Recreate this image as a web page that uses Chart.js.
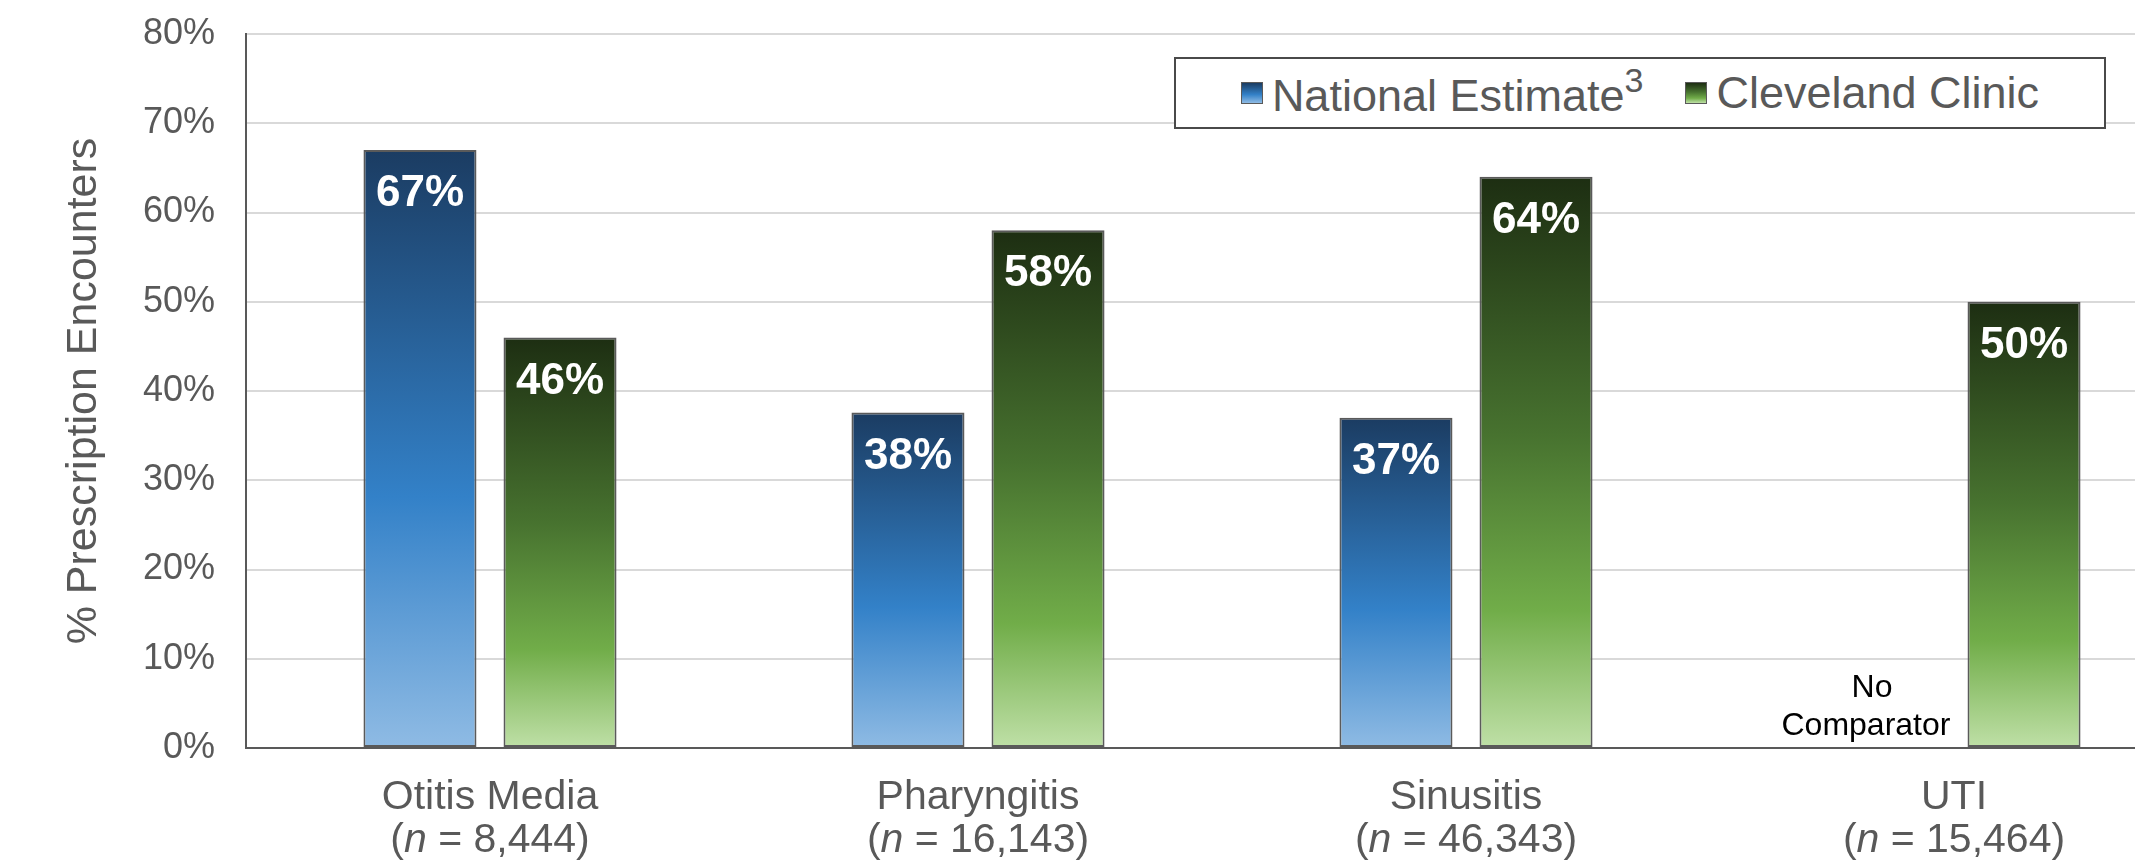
<!DOCTYPE html>
<html>
<head>
<meta charset="utf-8">
<script src="https://cdn.jsdelivr.net/npm/chart.js@4.4.1/dist/chart.umd.min.js"></script>
<style>
    html, body { margin: 0; padding: 0; background: #fff; overflow: hidden; }
    #wrap { position: relative; width: 2200px; height: 865px; }
    #legend {
        position: absolute; left: 1174px; top: 57px; width: 928px; height: 68px;
        border: 2px solid #4a4a4a; background: #fff;
        display: flex; align-items: center; justify-content: center; gap: 42px;
        font-family: "Liberation Sans", Arial, sans-serif; font-size: 45px; color: #595959;
    }
    #legend .item { display: flex; align-items: center; }
    #legend .sw { width: 20px; height: 20px; border: 1.5px solid #5a5a5a; margin-right: 9px; }
    #legend sup { font-size: 34px; position: relative; top: -3px; }
</style>
</head>
<body>
<div id="wrap">
    <canvas id="chart" width="2200" height="865"></canvas>
    <div id="legend"></div>
</div>
<script>
// --- data ---
const categories = ['Otitis Media', 'Pharyngitis', 'Sinusitis', 'UTI'];
const sampleSizes = ['8,444', '16,143', '46,343', '15,464'];
const nationalEstimate = [67, 37.6, 37, null];
const clevelandClinic = [46, 58, 64, 50];
const seriesNames = ['National Estimate', 'Cleveland Clinic'];
const seriesNotes = ['3', ''];
const yMax = 80;
const yStep = 10;
const noDataText = ['No', 'Comparator'];

const FONT = '"Liberation Sans", Arial, sans-serif';
const GREY = '#595959';

const blueStops = [[0, '#1b3c62'], [0.58, '#3381c8'], [1, '#8fbbe4']];
const greenStops = [[0, '#1d2e12'], [0.45, '#47722f'], [0.76, '#71ad49'], [1, '#bfe0a7']];

function barGradient(stops, fallback) {
    return function (ctx) {
        const chart = ctx.chart;
        if (!chart.chartArea || ctx.raw == null) return fallback;
        const y = chart.scales.y;
        const top = y.getPixelForValue(ctx.raw);
        const bottom = y.getPixelForValue(0);
        const g = chart.ctx.createLinearGradient(0, top, 0, bottom);
        stops.forEach(s => g.addColorStop(s[0], s[1]));
        return g;
    };
}

// legend (html, because of the superscript)
const legendEl = document.getElementById('legend');
[blueStops, greenStops].forEach((stops, i) => {
    const css = 'linear-gradient(' + stops.map(s => s[1] + ' ' + (s[0] * 100) + '%').join(',') + ')';
    const item = document.createElement('div');
    item.className = 'item';
    item.innerHTML = '<div class="sw" style="background:' + css + '"></div><span>' +
        seriesNames[i] + (seriesNotes[i] ? '<sup>' + seriesNotes[i] + '</sup>' : '') + '</span>';
    legendEl.appendChild(item);
});

// value labels inside bars + "No Comparator"
const valueLabels = {
    id: 'valueLabels',
    afterDatasetsDraw(chart) {
        const c = chart.ctx;
        c.save();
        c.textAlign = 'center';
        c.textBaseline = 'middle';
        chart.data.datasets.forEach((ds, d) => {
            const meta = chart.getDatasetMeta(d);
            meta.data.forEach((bar, i) => {
                const v = ds.data[i];
                if (v == null) {
                    c.fillStyle = '#000';
                    c.font = '32px ' + FONT;
                    c.fillText(noDataText[0], bar.x - 12, 688);
                    c.fillText(noDataText[1], bar.x - 18, 726);
                    return;
                }
                c.fillStyle = '#fff';
                c.font = 'bold 44px ' + FONT;
                c.fillText(Math.round(v) + '%', bar.x, bar.y + 44);
            });
        });
        c.restore();
    }
};

// two-line category labels with italic n
const categoryLabels = {
    id: 'categoryLabels',
    afterDraw(chart) {
        const c = chart.ctx;
        const x = chart.scales.x;
        const size = 41;
        c.save();
        c.fillStyle = GREY;
        c.textBaseline = 'middle';
        categories.forEach((name, i) => {
            const cx = x.getPixelForValue(i);
            c.font = size + 'px ' + FONT;
            c.textAlign = 'center';
            c.fillText(name, cx, 798);
            const a = '(', b = 'n', rest = ' = ' + sampleSizes[i] + ')';
            const wa = c.measureText(a).width;
            const wr = c.measureText(rest).width;
            c.font = 'italic ' + size + 'px ' + FONT;
            const wb = c.measureText(b).width;
            const px = cx - (wa + wb + wr) / 2;
            c.textAlign = 'left';
            c.font = size + 'px ' + FONT;
            c.fillText(a, px, 841);
            c.font = 'italic ' + size + 'px ' + FONT;
            c.fillText(b, px + wa, 841);
            c.font = size + 'px ' + FONT;
            c.fillText(rest, px + wa + wb, 841);
        });
        c.restore();
    }
};

new Chart(document.getElementById('chart'), {
    type: 'bar',
    data: {
        labels: categories,
        datasets: [{
            label: seriesNames[0],
            data: nationalEstimate,
            backgroundColor: barGradient(blueStops, '#2e75b6'),
            borderColor: '#5a5a5a',
            borderWidth: 2,
            borderSkipped: false,
            categoryPercentage: 0.574,
            barPercentage: 0.807
        }, {
            label: seriesNames[1],
            data: clevelandClinic,
            backgroundColor: barGradient(greenStops, '#70ad47'),
            borderColor: '#5a5a5a',
            borderWidth: 2,
            borderSkipped: false,
            categoryPercentage: 0.574,
            barPercentage: 0.807
        }]
    },
    options: {
        responsive: false,
        animation: false,
        layout: { padding: { top: 34, bottom: 117, left: 0, right: 2 } },
        plugins: {
            legend: { display: false },
            tooltip: { enabled: false }
        },
        scales: {
            x: {
                grid: { display: false, drawTicks: false },
                ticks: { display: false },
                border: { display: true, color: GREY, width: 2 }
            },
            y: {
                min: 0,
                max: yMax,
                afterFit: function (scale) {
                    scale.width = 246;
                    scale.paddingTop = 0;
                    scale.paddingBottom = 0;
                },
                ticks: {
                    stepSize: yStep,
                    padding: 31,
                    color: GREY,
                    font: { family: FONT, size: 36 },
                    callback: function (value) { return value + '%'; }
                },
                grid: { color: '#d9d9d9', lineWidth: 2, drawTicks: false },
                border: { display: true, color: GREY, width: 2 },
                title: {
                    display: true,
                    text: '% Prescription Encounters',
                    color: GREY,
                    font: { family: FONT, size: 43 },
                    padding: { top: 58, bottom: 0 }
                }
            }
        }
    },
    plugins: [valueLabels, categoryLabels]
});
</script>
</body>
</html>
